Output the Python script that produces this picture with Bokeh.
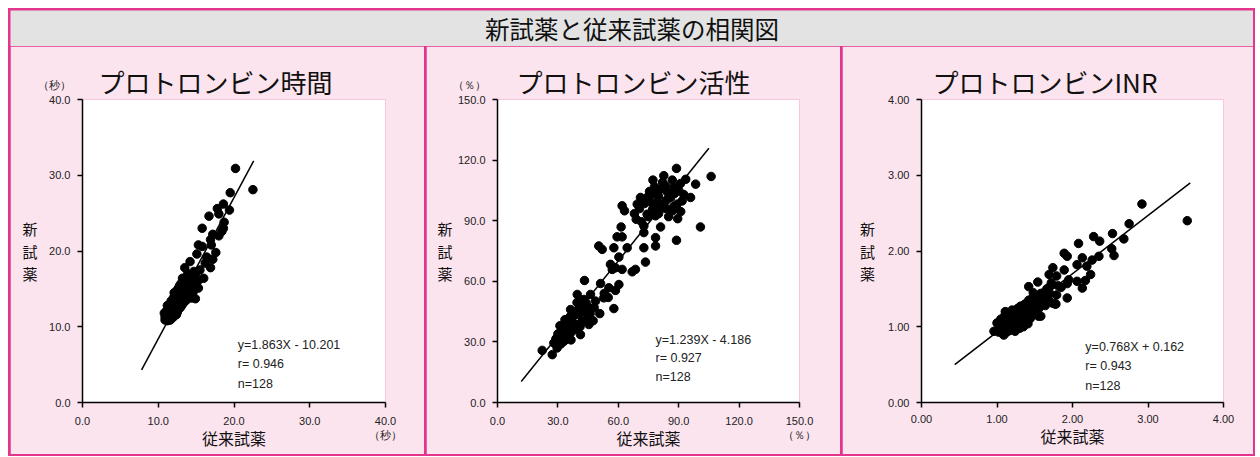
from bokeh.plotting import figure
from bokeh.layouts import column, row
from bokeh.models import Range1d, FixedTicker, PrintfTickFormatter, Label, LinearAxis, Title
from bokeh.embed import file_html
from bokeh.resources import INLINE

PINK = "#FCE4EF"
GREY = "#E3E3E3"
MAG = "#E4358C"
JP = "Noto Sans CJK JP"
LAT = "Liberation Sans"

main_title = "新試薬と従来試薬の相関図"
x_label = "従来試薬"
y_label = "新\n試\n薬"

# ---------------- Panel 1: プロトロンビン時間 ----------------
time_title = "プロトロンビン時間"
time_ticks = [0, 10, 20, 30, 40]
time_unit = "（秒）"
time_x = [20.2, 22.5, 19.5, 18.6, 17.8, 19.4, 18.0, 16.7, 18.7, 18.6, 15.8, 18.4, 17.2, 18.0, 16.9, 17.0,
          15.3, 15.8, 17.6, 15.1, 16.4, 14.2, 17.2, 16.2, 16.9, 13.5, 15.5, 16.0, 14.9, 14.6, 15.3, 14.0, 13.2,
          10.9, 11.0, 11.2, 11.3, 11.1, 11.4, 11.5, 10.8, 11.6, 11.7,
          11.2, 11.8, 11.9, 11.5, 12.0, 12.1, 11.3, 11.9, 12.2, 12.3,
          11.6, 12.4, 12.0, 12.5, 12.6, 12.2, 12.7, 12.8, 12.4, 12.9,
          13.0, 13.1, 12.6, 13.2, 13.3, 13.4, 13.0, 13.6, 13.7, 13.8,
          14.0, 13.5, 14.2, 14.4, 14.6, 11.4, 11.7, 12.1, 12.5, 12.8,
          11.0, 11.3, 11.5, 11.8, 12.0, 12.3, 12.7, 13.1, 13.5, 13.9,
          11.1, 11.6, 12.2, 12.9, 13.3, 14.1, 14.8, 11.9, 12.4, 13.6,
          10.9, 11.4, 12.6, 13.2, 14.3, 12.0, 11.7, 12.9, 13.8, 14.5,
          11.2, 12.3, 12.8, 13.4, 14.0, 11.5, 12.1, 13.0, 13.7, 14.9,
          12.5, 14.2, 13.9, 14.7, 15.2]
time_y = [30.9, 28.1, 27.7, 26.2, 25.6, 25.4, 24.9, 24.6, 23.8, 23.0, 23.0, 22.6, 22.2, 22.0, 21.5, 20.8,
          20.8, 20.6, 19.8, 19.6, 19.2, 18.6, 18.9, 18.4, 17.8, 17.8, 17.5, 16.4, 16.8, 16.1, 15.1, 15.6, 16.4,
          10.9, 11.4, 10.8, 11.6, 12.1, 11.1, 12.4, 11.8, 10.9, 11.5,
          12.8, 12.0, 11.2, 13.0, 12.6, 11.7, 12.3, 13.3, 13.0, 12.2,
          11.9, 11.6, 13.8, 12.9, 13.6, 14.2, 12.4, 14.0, 14.6, 13.2,
          14.4, 12.8, 15.0, 13.8, 15.2, 14.0, 15.7, 14.6, 13.5, 15.4,
          14.2, 16.0, 15.0, 13.8, 14.6, 11.5, 12.7, 12.3, 11.9, 13.0,
          11.0, 10.9, 11.7, 11.4, 11.9, 13.4, 13.9, 14.6, 15.1, 14.8,
          11.6, 12.2, 12.5, 14.3, 13.1, 15.8, 15.2, 12.9, 13.3, 13.9,
          11.3, 12.0, 12.2, 14.9, 16.5, 11.3, 13.4, 12.5, 14.0, 15.6,
          11.9, 11.8, 15.4, 13.4, 16.2, 10.9, 14.5, 13.6, 16.4, 13.7,
          14.8, 14.4, 17.0, 17.3, 16.0]
time_line_x = [7.8, 22.6]
time_line_y = [4.3, 31.9]
time_stats = ["y=1.863X - 10.201", "r= 0.946", "n=128"]

# ---------------- Panel 2: プロトロンビン活性 ----------------
act_title = "プロトロンビン活性"
act_ticks = [0, 30, 60, 90, 120, 150]
act_unit = "（％）"
act_x = [106.1, 88.9, 82.6, 77.2, 86.8, 90.9, 98.4, 87.6, 83.4, 81.0,
         95.9, 91.7, 89.2, 86.8, 71.0, 74.3, 69.4, 77.7, 79.3, 82.6,
         61.9, 63.1, 100.8, 88.9, 68.9, 72.7, 72.7, 78.5, 78.5, 72.7,
         81.0, 74.3, 78.5, 61.4, 59.4, 61.9, 50.3, 52.0, 57.8, 64.4,
         73.5, 68.5, 66.9, 60.3, 56.1, 58.6, 61.9, 57.0, 43.2, 51.2,
         55.3, 60.3, 58.6, 52.8, 57.8, 39.6, 46.2, 42.9, 48.7, 50.8,
         45.4, 42.1, 36.3, 37.1, 40.4, 44.5, 45.4, 39.6, 34.6, 32.1,
         36.3, 41.2, 30.5, 33.0, 28.0, 29.6, 27.2, 22.2,
         75.5, 78.0, 80.0, 84.5, 86.0, 88.0, 90.0, 92.5, 84.0, 80.5,
         76.0, 73.0, 77.0, 83.5, 87.5, 91.0, 89.5, 85.0, 80.0, 70.5,
         75.0, 68.0, 71.5, 82.0, 93.5,
         31.0, 33.5, 35.0, 37.5, 38.5, 40.5, 43.5, 42.0, 30.0, 32.5,
         34.0, 36.5, 29.0, 31.5, 38.0, 41.0, 46.0, 48.0, 44.0, 36.0,
         33.5, 39.5, 47.5, 53.0, 55.0]
act_y = [111.9, 115.9, 112.3, 110.1, 110.1, 108.4, 108.1, 106.5, 107.3, 105.6,
         101.5, 99.8, 98.2, 94.9, 101.5, 101.5, 98.2, 103.2, 99.0, 98.2,
         97.4, 94.9, 86.9, 80.3, 90.7, 87.4, 84.1, 81.6, 77.5, 76.6,
         86.9, 93.2, 92.4, 86.9, 82.0, 82.0, 77.5, 75.8, 76.6, 76.6,
         69.5, 65.9, 64.7, 72.0, 68.4, 66.7, 65.9, 65.9, 60.4, 58.9,
         56.8, 58.4, 55.5, 51.8, 46.5, 53.5, 53.5, 51.0, 50.2, 44.0,
         46.9, 48.5, 46.0, 41.9, 43.5, 41.1, 38.6, 38.6, 38.6, 35.3,
         34.4, 33.6, 32.8, 30.3, 29.5, 27.0, 23.7, 25.8,
         104.5, 106.8, 102.0, 104.0, 101.5, 103.5, 105.0, 103.0, 100.2, 97.0,
         99.2, 98.5, 95.5, 96.0, 97.0, 94.5, 91.0, 92.0, 93.5, 96.0,
         92.0, 93.5, 89.5, 109.0, 110.5,
         38.0, 41.0, 36.5, 39.0, 44.5, 46.5, 44.5, 40.0, 34.0, 32.0,
         33.5, 31.0, 31.5, 29.0, 36.0, 37.5, 44.0, 47.0, 49.5, 42.5,
         36.5, 49.5, 40.5, 54.0, 52.0]
act_line_x = [11.8, 105.0]
act_line_y = [10.4, 125.9]
act_stats = ["y=1.239X - 4.186", "r= 0.927", "n=128"]

# ---------------- Panel 3: プロトロンビンINR ----------------
inr_title = "プロトロンビンINR"
inr_ticks = [0, 1, 2, 3, 4]
inr_x = [3.52, 2.92, 2.75, 2.53, 2.68, 2.28, 2.36, 2.08, 2.52, 2.55,
         2.35, 1.89, 1.93, 2.13, 2.26, 2.06, 2.19, 1.89, 1.74, 1.69,
         1.79, 1.54, 1.42, 1.93, 2.06, 2.17, 2.13, 2.24, 1.70, 1.81,
         1.58, 1.66, 1.79, 1.93, 1.78, 1.47, 1.55, 1.40, 1.31, 1.36,
         0.96, 1.00, 1.02, 1.05, 1.06, 1.08, 1.09, 1.10, 1.11, 1.12,
         1.13, 1.14, 1.15, 1.16, 1.17, 1.18, 1.19, 1.20, 1.21, 1.22,
         1.23, 1.24, 1.25, 1.26, 1.27, 1.28, 1.29, 1.30, 1.31, 1.32,
         1.33, 1.34, 1.35, 1.36, 1.37, 1.38, 1.39, 1.40, 1.41, 1.42,
         1.43, 1.44, 1.45, 1.46, 1.47, 1.48, 1.50, 1.52, 1.54, 1.56,
         1.58, 1.60, 1.62, 1.64, 1.66, 1.68, 1.70, 1.72, 1.74, 1.77,
         1.05, 1.12, 1.18, 1.24, 1.29, 1.15, 1.22, 1.08, 1.35, 1.26,
         1.02, 1.14, 1.20, 1.31, 1.38, 1.46, 1.53, 1.11, 1.28, 1.42,
         1.36, 1.19, 1.33, 1.55, 1.63, 1.48, 1.85, 1.95]
inr_y = [2.40, 2.62, 2.36, 2.23, 2.16, 2.19, 2.13, 2.10, 2.03, 1.94,
         1.93, 1.97, 1.93, 1.91, 1.88, 1.82, 1.80, 1.75, 1.78, 1.69,
         1.67, 1.59, 1.53, 1.57, 1.60, 1.61, 1.51, 1.69, 1.53, 1.54,
         1.44, 1.40, 1.42, 1.38, 1.30, 1.31, 1.14, 1.22, 1.27, 1.12,
         0.94, 1.05, 0.97, 1.10, 0.92, 1.02, 0.89, 1.14, 0.98, 1.06,
         0.93, 1.18, 1.01, 1.09, 0.95, 1.13, 1.04, 1.22, 0.99, 1.08,
         1.16, 0.94, 1.11, 1.03, 1.24, 1.07, 1.19, 0.98, 1.14, 1.27,
         1.05, 1.20, 1.00, 1.12, 1.30, 1.09, 1.23, 1.16, 1.04, 1.35,
         1.20, 1.11, 1.27, 1.15, 1.38, 1.22, 1.31, 1.18, 1.40, 1.25,
         1.14, 1.33, 1.45, 1.28, 1.50, 1.36, 1.44, 1.58, 1.31, 1.30,
         0.99, 1.01, 0.97, 1.05, 1.10, 1.12, 1.19, 1.08, 1.08, 1.15,
         0.93, 0.96, 1.10, 1.03, 1.17, 1.22, 1.28, 1.20, 1.00, 1.10,
         1.24, 1.15, 1.13, 1.35, 1.38, 1.45, 1.52, 1.62]
inr_line_x = [0.44, 3.56]
inr_line_y = [0.50, 2.90]
inr_stats = ["y=0.768X + 0.162", "r= 0.943", "n=128"]

panels = [
    dict(title=time_title, ticks=time_ticks, fmt="%.1f", unit=time_unit, x=time_x, y=time_y,
         lx=time_line_x, ly=time_line_y, stats=time_stats,
         width=414, left=72, right=39,
         title_off=16, xlab_standoff=-18, ylab_standoff=-3,
         stats_pos=(20.5, [7.63, 5.13, 2.5])),
    dict(title=act_title, ticks=act_ticks, fmt="%.1f", unit=act_unit, x=act_x, y=act_y,
         lx=act_line_x, ly=act_line_y, stats=act_stats,
         width=414, left=71, right=41,
         title_off=19, xlab_standoff=-18, ylab_standoff=-3,
         stats_pos=(78.5, [31.1, 22.0, 12.4])),
    dict(title=inr_title, ticks=inr_ticks, fmt="%.2f", unit=None, x=inr_x, y=inr_y,
         lx=inr_line_x, ly=inr_line_y, stats=inr_stats,
         width=411, left=79, right=30,
         title_off=11, xlab_standoff=-2, ylab_standoff=10,
         stats_pos=(2.17, [0.738, 0.481, 0.216])),
]

H = 408
TOP = 53
BOTTOM = 52
SPACER = 10


def make_panel(c):
    lo, hi = c["ticks"][0], c["ticks"][-1]
    p = figure(width=c["width"], height=H, x_range=Range1d(lo, hi), y_range=Range1d(lo, hi),
               toolbar_location=None, output_backend="svg",
               min_border_left=c["left"], min_border_right=c["right"],
               min_border_top=TOP, min_border_bottom=BOTTOM)
    p.background_fill_color = "white"
    p.border_fill_color = PINK
    p.outline_line_color = None
    p.grid.visible = False
    p.title.text = ""
    p.title.standoff = 0
    p.title.visible = False

    xa = p.below[0]
    ya = p.left[0]

    # panel title (outermost), then an invisible spacer axis between it and the frame
    p.add_layout(Title(text=c["title"], align="left", offset=c["title_off"], standoff=0,
                       text_font=JP, text_font_size="26px", text_font_style="normal",
                       text_color="#111111"), "above")
    spacer = LinearAxis(ticker=FixedTicker(ticks=[lo]), axis_line_color=None,
                        major_tick_line_color=None, minor_tick_line_color=None,
                        major_tick_out=SPACER, minor_tick_out=0, major_tick_in=0,
                        minor_tick_in=0, major_label_standoff=0,
                        major_label_text_font_size="1px", major_label_text_alpha=0,
                        major_label_overrides={lo: " "})
    p.add_layout(spacer, "above")

    for ax in (xa, ya):
        ax.ticker = FixedTicker(ticks=c["ticks"])
        ax.formatter = PrintfTickFormatter(format=c["fmt"])
        ax.axis_line_width = 1.5
        ax.axis_line_color = "black"
        ax.major_tick_line_width = 1.5
        ax.major_tick_line_color = "black"
        ax.major_tick_out = 5
        ax.major_tick_in = 0
        ax.minor_tick_line_color = None
        ax.major_label_text_font = LAT
        ax.major_label_text_font_size = "11px"
        ax.major_label_text_color = "#222222"
        ax.major_label_standoff = 7
        ax.axis_label_text_font = JP
        ax.axis_label_text_font_size = "16px"
        ax.axis_label_text_font_style = "normal"
        ax.axis_label_text_color = "#111111"
    if c["unit"]:
        top_txt = c["fmt"] % hi
        xa.major_label_overrides = {hi: top_txt + "\n" + c["unit"]}
        ya.major_label_overrides = {hi: c["unit"] + "\n" + top_txt + "\n "}
    xa.axis_label = x_label
    xa.axis_label_standoff = c["xlab_standoff"]
    ya.axis_label = y_label
    ya.axis_label_orientation = "horizontal"
    ya.axis_label_standoff = c["ylab_standoff"]
    ya.axis_label_text_line_height = 1.05
    ya.axis_label_text_font_size = "15px"

    p.line(c["lx"], c["ly"], line_color="black", line_width=1.5)
    p.scatter(c["x"], c["y"], size=8.5, fill_color="black", line_color="black")

    sx, sys_ = c["stats_pos"]
    for t, yy in zip(c["stats"], sys_):
        p.add_layout(Label(x=sx, y=yy, text=t, text_font=LAT, text_font_size="12.5px",
                           text_align="left", text_baseline="middle", text_color="#222222"))
    return p


figs = [make_panel(c) for c in panels]

header = figure(width=414 + 2 + 414 + 2 + 411, height=36, x_range=Range1d(0, 1), y_range=Range1d(0, 1),
                x_axis_type=None, y_axis_type=None, toolbar_location=None, output_backend="svg",
                min_border=0)
header.background_fill_color = GREY
header.border_fill_color = GREY
header.outline_line_color = None
header.grid.visible = False
header.add_layout(Label(x=0.5, y=0.5, text=main_title, text_font=JP, text_font_size="24.5px",
                        text_align="center", text_baseline="middle", text_color="#111111"))

panel_row = row(*figs, spacing=2, styles={"background-color": MAG})
layout = column(header, panel_row, spacing=0, margin=(8, 0, 0, 8),
                styles={"background-color": MAG, "padding": "2px"})

open("out.html", "w").write(file_html(layout, INLINE))
